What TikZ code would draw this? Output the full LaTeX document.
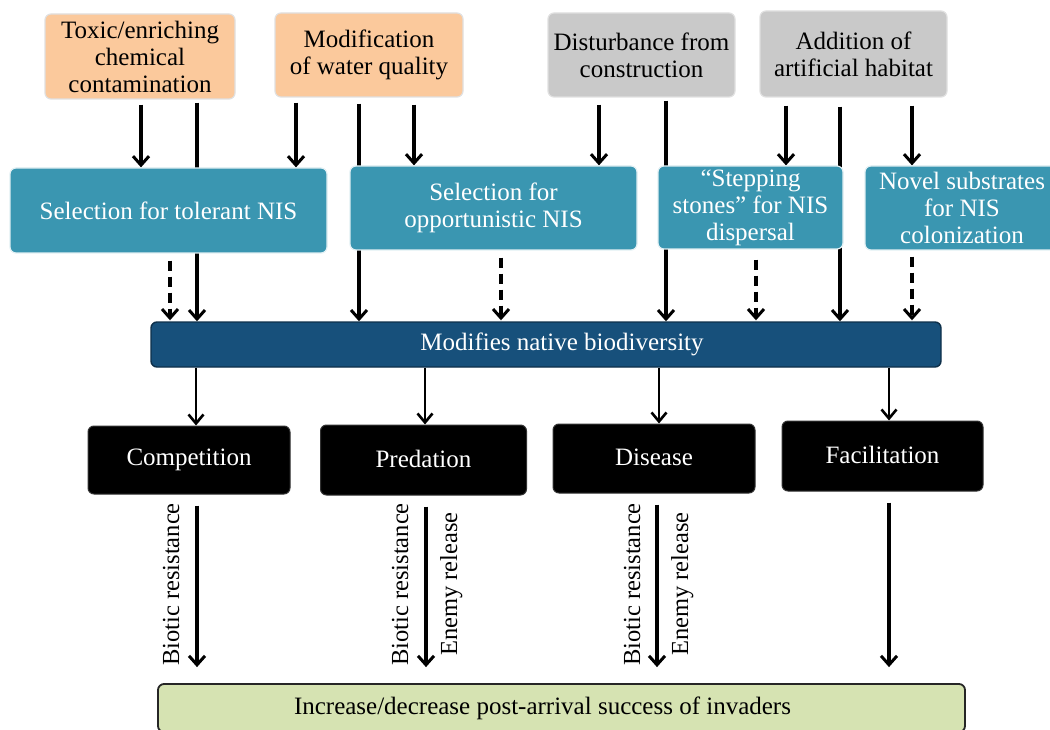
\documentclass[tikz,border=0pt]{standalone}
\usepackage{fontspec}
\setmainfont{Liberation Serif}
\usetikzlibrary{arrows.meta}
\definecolor{orangebox}{HTML}{FBC99C}
\definecolor{graybox}{HTML}{C9C9C9}
\definecolor{tealbox}{HTML}{3A96B1}
\definecolor{navybox}{HTML}{17507B}
\definecolor{greenbox}{HTML}{D6E3B2}
\pgfdeclarelayer{background}
\pgfsetlayers{background,main}
\tikzset{
  box/.style={rounded corners=6pt, inner sep=0pt, align=center, font=\fontsize{25}{27}\selectfont},
  srcbox/.style={box, draw=black!12, line width=1.2pt},
  orangeb/.style={srcbox, fill=orangebox, text=black},
  grayb/.style={srcbox, fill=graybox, text=black},
  tealb/.style={box, fill=tealbox, draw=white!85!tealbox, line width=1.2pt, text=white},
  navyb/.style={box, fill=navybox, draw=navybox!60!black, line width=1.4pt, text=white},
  blackb/.style={box, fill=black, draw=black!80, line width=1pt, text=white},
  greenb/.style={box, fill=greenbox, draw=black!85, line width=1.8pt, text=black},
  arr/.style={line width=3.2pt, -{Straight Barb[length=9pt,width=16pt,line width=3pt]}},
  arrthin/.style={line width=2.6pt, -{Straight Barb[length=9pt,width=15pt,line width=2.6pt]}},
  darr/.style={arr, dash pattern=on 10pt off 6pt},
  vlabel/.style={rotate=90, inner sep=0pt, font=\fontsize{24.5}{27}\selectfont}
}
\newcommand{\up}[1]{\raisebox{3pt}{#1}}
\begin{document}
\begin{tikzpicture}[x=1pt,y=-1pt]
\useasboundingbox (0,0) rectangle (1050,730);
% top sources
\node[orangeb, minimum width=190pt, minimum height=85pt] (tox) at (140,56.5) {Toxic/enriching\\chemical\\contamination};
\node[orangeb, minimum width=188pt, minimum height=84pt] (wq) at (369,55) {Modification\\of water quality};
\node[grayb, minimum width=187pt, minimum height=84pt] (dist) at (641.5,55) {Disturbance from\\construction};
\node[grayb, minimum width=187pt, minimum height=86pt] (add) at (853.5,54) {Addition of\\artificial habitat};
% selection row
\node[tealb, minimum width=317pt, minimum height=85pt] (seltol) at (168.5,210.5) {Selection for tolerant NIS};
\node[tealb, minimum width=287pt, minimum height=84pt] (selopp) at (493.5,208) {Selection for\\opportunistic NIS};
\node[tealb, minimum width=185pt, minimum height=83pt] (stones) at (750.5,207.5) {``Stepping\\stones'' for NIS\\dispersal};
\node[tealb, minimum width=194pt, minimum height=84pt] (novel) at (962,208) {Novel substrates\\for NIS\\colonization};
% biodiversity
\node[navyb, minimum width=790pt, minimum height=45pt] (mod) at (546,344.5) {\hspace*{32pt}Modifies native biodiversity};
% interactions
\node[blackb, minimum width=202pt, minimum height=68pt] (comp) at (189,460) {\up{Competition}};
\node[blackb, minimum width=206pt, minimum height=70pt] (pred) at (423.5,460) {\up{Predation}};
\node[blackb, minimum width=202pt, minimum height=69pt] (dis) at (654,458.5) {\up{Disease}};
\node[blackb, minimum width=201pt, minimum height=70pt] (fac) at (882.5,456) {\up{Facilitation}};
% outcome
\node[greenb, minimum width=807pt, minimum height=48pt] (inc) at (561.5,708) {Increase/decrease post-arrival success of invaders\hspace*{38pt}};

\begin{pgfonlayer}{background}
% sources -> selection
\draw[arr, shorten <=5pt] (tox.south -| 141,0) -- (seltol.north -| 141,0);
\draw[arr, shorten <=5pt] (wq.south -| 296,0) -- (seltol.north -| 296,0);
\draw[arr, shorten <=7pt] (wq.south -| 414,0) -- (selopp.north -| 414,0);
\draw[arr, shorten <=7pt] (dist.south -| 599,0) -- (selopp.north -| 599,0);
\draw[arr, shorten <=8pt] (add.south -| 786,0) -- (stones.north -| 786,0);
\draw[arr, shorten <=8pt] (add.south -| 912,0) -- (novel.north -| 912,0);
% sources -> biodiversity (behind selection boxes)
\draw[arr, shorten <=3pt] (tox.south -| 197,0) -- (mod.north -| 197,0);
\draw[arr, shorten <=6pt] (wq.south -| 359,0) -- (mod.north -| 359,0);
\draw[arr, shorten <=3pt] (dist.south -| 666,0) -- (mod.north -| 666,0);
\draw[arr, shorten <=9pt] (add.south -| 840,0) -- (mod.north -| 840,0);
% selection -> biodiversity (dashed)
\draw[darr, shorten <=7pt, shorten >=1pt] (seltol.south -| 170,0) -- (mod.north -| 170,0);
\draw[darr, shorten <=7pt, shorten >=1pt] (selopp.south -| 501,0) -- (mod.north -| 501,0);
\draw[darr, shorten <=10pt, shorten >=1pt] (stones.south -| 756,0) -- (mod.north -| 756,0);
\draw[darr, shorten <=6pt, shorten >=1pt] (novel.south -| 912,0) -- (mod.north -| 912,0);
% biodiversity -> interactions
\draw[arrthin] (mod.south -| 196,0) -- (comp.north -| 196,0);
\draw[arrthin] (mod.south -| 425,0) -- (pred.north -| 425,0);
\draw[arrthin] (mod.south -| 659,0) -- (dis.north -| 659,0);
\draw[arrthin] (mod.south -| 889,0) -- (fac.north -| 889,0);
% interactions -> outcome
\draw[arr, shorten <=11pt, shorten >=16pt] (comp.south -| 197,0) -- (inc.north -| 197,0);
\draw[arr, shorten <=11pt, shorten >=16pt] (pred.south -| 426,0) -- (inc.north -| 426,0);
\draw[arr, shorten <=11pt, shorten >=16pt] (dis.south -| 657,0) -- (inc.north -| 657,0);
\draw[arr, shorten <=11pt, shorten >=16pt] (fac.south -| 889,0) -- (inc.north -| 889,0);
\end{pgfonlayer}
% labels
\node[vlabel, anchor=base west] (l1) at (179,666) {Biotic resistance};
\node[vlabel, anchor=base west] (l2) at (408,666) {Biotic resistance};
\node[vlabel, anchor=base west] (l3) at (457,656) {Enemy release};
\node[vlabel, anchor=base west] (l4) at (640,666) {Biotic resistance};
\node[vlabel, anchor=base west] (l5) at (688,656) {Enemy release};
\end{tikzpicture}
\end{document}
